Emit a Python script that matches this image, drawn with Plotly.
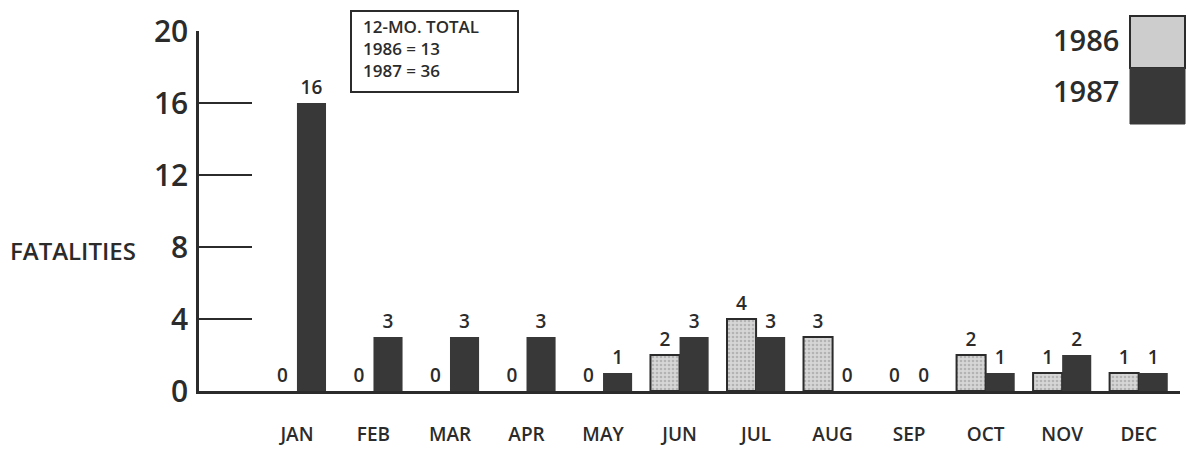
import plotly.graph_objects as go

months = ["JAN", "FEB", "MAR", "APR", "MAY", "JUN", "JUL", "AUG", "SEP", "OCT", "NOV", "DEC"]
fat_1986 = [0, 0, 0, 0, 0, 2, 4, 3, 0, 2, 1, 1]
fat_1987 = [16, 3, 3, 3, 1, 3, 3, 0, 0, 1, 2, 1]
y_ticks = [0, 4, 8, 12, 16, 20]
total_lines = ["12-MO. TOTAL", "1986 = 13", "1987 = 36"]
series_names = ["1986", "1987"]

W, H = 1189, 453
L, R, T, B = 199, 9, 31, 62
pw, ph = W - L - R, H - T - B

def px(x):
    return (x - L) / pw

def py(y):
    return (H - B - y) / ph

FONT = "Open Sans"
INK = "#2b2b2b"
DARK = "#383838"
LIGHT = "#cdcdcd"

fig = go.Figure()
fig.add_trace(go.Bar(
    x=months, y=fat_1986, name=series_names[0],
    marker=dict(color=LIGHT,
                line=dict(color=INK, width=[2 if v > 0 else 0 for v in fat_1986]),
                pattern=dict(shape=".", fgcolor="#8f8f8f", bgcolor="#d6d6d6", size=4, solidity=0.35)),
    text=[str(v) for v in fat_1986], textposition="outside", cliponaxis=False,
    textfont=dict(family=FONT, size=19, color=INK, weight=600),
))
fig.add_trace(go.Bar(
    x=months, y=fat_1987, name=series_names[1],
    marker=dict(color=DARK, line=dict(color=DARK, width=0)),
    text=[str(v) for v in fat_1987], textposition="outside", cliponaxis=False,
    textfont=dict(family=FONT, size=19, color=INK, weight=600),
))

fig.update_layout(
    width=W, height=H,
    margin=dict(l=L, r=R, t=T, b=B, pad=0, autoexpand=False),
    paper_bgcolor="white", plot_bgcolor="white",
    barmode="group", bargap=0.24, bargroupgap=0,
    showlegend=False,
    font=dict(family=FONT, color=INK),
    xaxis=dict(
        range=[-1.28, 11.54], showgrid=False, zeroline=False, automargin=False,
        showline=True, linecolor=INK, linewidth=3,
        ticks="", tickfont=dict(family=FONT, size=19, color=INK, weight=600),
        ticklabelstandoff=24, fixedrange=True,
    ),
    yaxis=dict(
        range=[0, 20], tickvals=y_ticks, showgrid=False, zeroline=False, automargin=False,
        showline=True, linecolor=INK, linewidth=2.5,
        ticks="inside", ticklen=53, tickwidth=2, tickcolor=INK,
        tickfont=dict(family=FONT, size=30, color=INK, weight=600),
        ticklabelstandoff=2, fixedrange=True,
    ),
)

# y-axis title
fig.add_annotation(xref="paper", yref="paper", x=px(8), y=py(250), xanchor="left", yanchor="middle",
                   text="FATALITIES", showarrow=False,
                   font=dict(family=FONT, size=24, color=INK, weight=600))

# totals box
fig.add_shape(type="rect", xref="paper", yref="paper",
              x0=px(351), x1=px(518), y0=py(92), y1=py(11),
              line=dict(color=INK, width=2), fillcolor="white")
fig.add_annotation(xref="paper", yref="paper", x=px(361), y=py(48),
                   xanchor="left", yanchor="middle", align="left",
                   text="<br>".join(total_lines), showarrow=False,
                   font=dict(family=FONT, size=17, color=INK, weight=600))

# legend swatches
fig.add_shape(type="rect", xref="paper", yref="paper",
              x0=px(1130), x1=px(1185), y0=py(68), y1=py(16),
              line=dict(color=INK, width=2), fillcolor=LIGHT)
fig.add_shape(type="rect", xref="paper", yref="paper",
              x0=px(1130), x1=px(1185), y0=py(124), y1=py(68),
              line=dict(color=DARK, width=1), fillcolor=DARK)
for name, yc in zip(series_names, [39, 91]):
    fig.add_annotation(xref="paper", yref="paper", x=px(1121), y=py(yc),
                       xanchor="right", yanchor="middle", text=name, showarrow=False,
                       font=dict(family=FONT, size=29, color=INK, weight=600))

fig.write_html("out.html", config={"displayModeBar": False},
               post_script="document.body.style.margin='0px';document.body.style.overflow='hidden';")
